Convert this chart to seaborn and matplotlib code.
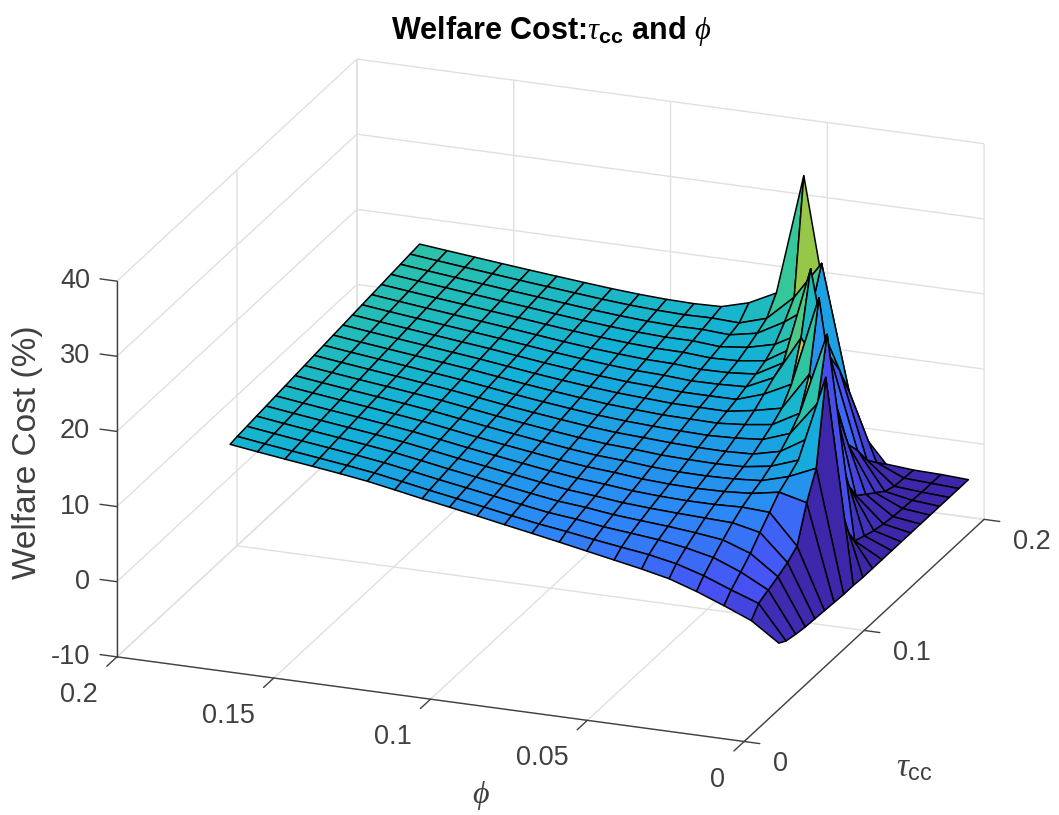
"""
Welfare cost surface over tau_cc and phi
"""
import numpy as np
import matplotlib.pyplot as plt
from matplotlib.colors import LinearSegmentedColormap, Normalize
from mpl_toolkits.mplot3d import proj3d
import seaborn as sns

# values, back row (tau = 0.2) first, left column (phi = 0.18) first
phi_values = [0.18, 0.17125, 0.1625, 0.15375, 0.145, 0.13625, 0.1275, 0.11875, 0.11, 0.10125, 0.0925,
              0.08375, 0.075, 0.06625, 0.0575, 0.04875, 0.04, 0.03125, 0.0225, 0.01375, 0.005]
tau_values = [0.2, 0.192, 0.184, 0.176, 0.168, 0.16, 0.152, 0.144, 0.136, 0.128, 0.12,
              0.112, 0.104, 0.096, 0.088, 0.08, 0.072, 0.064, 0.056, 0.048, 0.042]
welfare_cost = [
    [16.50, 16.12, 15.75, 15.38, 15.02, 14.68, 14.34, 14.02, 13.76, 13.58, 13.50, 13.60, 14.60, 16.40, 32.50, 12.10, -0.20, -4.40, -4.70, -4.80, -5.00],
    [16.34, 15.95, 15.57, 15.20, 14.83, 14.48, 14.13, 13.79, 13.51, 13.31, 13.20, 13.26, 13.10, 14.20, 17.50, 22.50, 6.00, -3.00, -4.60, -4.80, -5.00],
    [16.17, 15.78, 15.40, 15.02, 14.65, 14.29, 13.92, 13.56, 13.26, 13.03, 12.89, 12.92, 12.70, 13.40, 15.40, 18.00, 10.00, -1.50, -4.50, -4.80, -5.00],
    [16.01, 15.61, 15.22, 14.84, 14.46, 14.09, 13.70, 13.33, 13.01, 12.76, 12.59, 12.58, 12.30, 12.70, 13.60, 15.60, 13.00, 1.00, -4.00, -4.70, -5.00],
    [15.84, 15.44, 15.04, 14.66, 14.27, 13.90, 13.49, 13.10, 12.76, 12.49, 12.29, 12.24, 11.98, 12.10, 12.60, 14.80, 15.00, 3.00, -3.00, -4.60, -5.00],
    [15.68, 15.27, 14.87, 14.48, 14.09, 13.70, 13.28, 12.87, 12.51, 12.22, 11.98, 11.90, 11.64, 11.70, 12.00, 14.00, 27.00, 8.00, -2.00, -4.50, -5.00],
    [15.51, 15.09, 14.69, 14.29, 13.90, 13.50, 13.07, 12.64, 12.27, 11.94, 11.68, 11.55, 11.30, 11.34, 11.50, 13.20, 19.00, 14.00, -1.00, -4.30, -5.00],
    [15.35, 14.92, 14.51, 14.11, 13.71, 13.31, 12.86, 12.41, 12.02, 11.67, 11.38, 11.21, 11.00, 10.98, 11.00, 12.20, 14.00, 26.00, 2.00, -4.00, -5.00],
    [15.18, 14.75, 14.34, 13.93, 13.52, 13.11, 12.64, 12.18, 11.77, 11.40, 11.08, 10.87, 10.66, 10.62, 10.60, 11.20, 12.00, 17.00, 8.00, -3.50, -5.00],
    [15.02, 14.58, 14.16, 13.75, 13.34, 12.92, 12.43, 11.95, 11.52, 11.12, 10.77, 10.53, 10.32, 10.26, 10.20, 10.50, 11.00, 13.00, 24.00, -3.00, -5.00],
    [14.85, 14.41, 13.99, 13.57, 13.15, 12.72, 12.22, 11.72, 11.27, 10.85, 10.47, 10.19, 10.00, 9.86, 9.76, 9.90, 10.20, 11.50, 16.00, 0.00, -5.00],
    [14.69, 14.24, 13.81, 13.39, 12.96, 12.52, 12.01, 11.49, 11.02, 10.58, 10.17, 9.85, 9.66, 9.46, 9.32, 9.30, 9.44, 10.30, 12.50, 6.00, -5.00],
    [14.52, 14.07, 13.63, 13.21, 12.78, 12.33, 11.80, 11.26, 10.77, 10.30, 9.86, 9.51, 9.30, 9.02, 8.90, 8.84, 8.94, 9.50, 10.80, 22.30, -4.90],
    [14.36, 13.90, 13.46, 13.03, 12.59, 12.13, 11.58, 11.03, 10.52, 10.03, 9.56, 9.17, 8.94, 8.62, 8.44, 8.40, 8.50, 8.76, 9.80, 11.40, -4.90],
    [14.19, 13.73, 13.28, 12.85, 12.40, 11.94, 11.37, 10.80, 10.27, 9.76, 9.26, 8.83, 8.56, 8.20, 8.00, 7.92, 8.00, 8.24, 8.90, 8.00, -4.80],
    [14.03, 13.56, 13.10, 12.67, 12.22, 11.74, 11.16, 10.57, 10.03, 9.49, 8.96, 8.49, 8.18, 7.80, 7.58, 7.46, 7.46, 7.60, 7.40, 3.40, -4.70],
    [13.86, 13.38, 12.93, 12.48, 12.03, 11.54, 10.95, 10.34, 9.78, 9.21, 8.65, 8.14, 7.80, 7.40, 7.16, 6.98, 6.84, 6.70, 5.90, 2.40, -4.60],
    [13.70, 13.21, 12.75, 12.30, 11.84, 11.35, 10.74, 10.11, 9.53, 8.94, 8.35, 7.80, 7.46, 7.00, 6.70, 6.42, 6.06, 5.60, 4.30, 1.70, -4.50],
    [13.53, 13.04, 12.57, 12.12, 11.65, 11.15, 10.52, 9.88, 9.28, 8.67, 8.05, 7.46, 7.08, 6.56, 6.20, 5.82, 5.24, 4.44, 3.00, 1.10, -4.30],
    [13.37, 12.87, 12.40, 11.94, 11.47, 10.96, 10.31, 9.65, 9.03, 8.39, 7.74, 7.12, 6.62, 6.04, 5.52, 5.02, 4.30, 3.20, 1.80, 0.50, -4.00],
    [13.20, 12.70, 12.22, 11.76, 11.28, 10.76, 10.10, 9.42, 8.78, 8.12, 7.44, 6.78, 6.10, 5.40, 4.70, 4.00, 3.20, 2.00, 0.60, -0.90, -3.40],
]
phi_ticks = [0, 0.05, 0.1, 0.15, 0.2]
phi_tick_labels = ["0", "0.05", "0.1", "0.15", "0.2"]
tau_ticks = [0, 0.1, 0.2]
tau_tick_labels = ["0", "0.1", "0.2"]
cost_ticks = [-10, 0, 10, 20, 30, 40]
cost_tick_labels = ["-10", "0", "10", "20", "30", "40"]
parula_colors = ["#3e26a8", "#4752f4", "#2d87f7", "#12b1d6", "#37c897", "#abc739", "#fec338", "#f9fb15"]

TEXT_GREY = "#404040"
LINE_GREY = "#404040"

sns.set_theme(style="white")
plt.rcParams["font.family"] = ["Liberation Sans", "DejaVu Sans"]
plt.rcParams["axes.unicode_minus"] = False
plt.rcParams["mathtext.fontset"] = "custom"
plt.rcParams["mathtext.rm"] = "Liberation Sans"
plt.rcParams["mathtext.bf"] = "Liberation Sans:bold"
plt.rcParams["mathtext.it"] = "Liberation Serif:italic"

fig = plt.figure(figsize=(10.59, 8.15), dpi=100)
# big square box so nothing gets clipped, cube lands where it is in the picture
ax = fig.add_axes([36.2 / 1059, -99.6 / 815, 1001.6 / 1059, 1001.6 / 815], projection="3d")
ax.patch.set_alpha(0)
ax.set_proj_type("ortho")
ax.view_init(elev=20.7, azim=-69.1)
ax.set_box_aspect((1.008, 1.01, 0.603), zoom=1.0)

# flip so phi and tau ascend, then every face takes the colour of its first corner
phi_grid, tau_grid = np.meshgrid(phi_values[::-1], tau_values[::-1])
cost_grid = np.array(welfare_cost)[::-1, ::-1]
parula = LinearSegmentedColormap.from_list("parula", parula_colors)
face_colors = parula(Normalize(-5, 35)(cost_grid))

ax.plot_surface(
    phi_grid, tau_grid, cost_grid,
    facecolors=face_colors, shade=False, rstride=1, cstride=1,
    edgecolor="black", linewidth=1.1, antialiased=True,
)

ax.set_xlim(0.2, 0)
ax.set_ylim(0, 0.2)
ax.set_zlim(-10, 40)
ax.set_xticks(phi_ticks, [""] * len(phi_ticks))
ax.set_yticks(tau_ticks, [""] * len(tau_ticks))
ax.set_zticks(cost_ticks, [""] * len(cost_ticks))

for axis in (ax.xaxis, ax.yaxis, ax.zaxis):
    axis.set_pane_color((1, 1, 1, 0))
    axis.pane.set_edgecolor((1, 1, 1, 0))
    axis.line.set_color(LINE_GREY)
    axis.line.set_linewidth(1.0)
    axis._axinfo["grid"].update(color="#e0e0e0", linewidth=1.0)
    axis._axinfo["tick"].update(inward_factor=0.0, outward_factor=0.0)

ax.zaxis.set_ticks_position("lower")
ax.grid(True)


def tick_label(x, y, z, text, dx, dy, ha):
    # place a label a few pixels off its tick, the 3D axis cannot do this
    x2, y2, _ = proj3d.proj_transform(x, y, z, ax.get_proj())
    ax.annotate(text, xy=(x2, y2), xytext=(dx, dy), textcoords="offset pixels", ha=ha, va="center",
                fontsize=19.5, color=TEXT_GREY, annotation_clip=False)


# ticks stick out of the box along the floor, like the reference
for value, label in zip(phi_ticks, phi_tick_labels):
    ax.plot([value, value], [0, -0.0085], [-10, -10], color=LINE_GREY, lw=1.0)
    tick_label(value, 0, -10, label, -19, -38, "right")
for value, label in zip(tau_ticks, tau_tick_labels):
    ax.plot([0, -0.005], [value, value], [-10, -10], color=LINE_GREY, lw=1.0)
    tick_label(0, value, -10, label, 29, -22.5, "left")
for value, label in zip(cost_ticks, cost_tick_labels):
    ax.plot([0.2, 0.2054], [0, 0], [value, value], color=LINE_GREY, lw=1.0)
    tick_label(0.2, 0, value, label, -27, 0, "right")

ax.set_xlim(0.2, 0)
ax.set_ylim(0, 0.2)
ax.set_zlim(-10, 40)

fig.text(481 / 1059, 1 - 795 / 815, r"$\phi$", fontsize=23, color=TEXT_GREY, ha="center", va="center")
fig.text(914 / 1059, 1 - 768 / 815, r"$\tau_{\mathrm{cc}}$", fontsize=24, color=TEXT_GREY, ha="center", va="center")
fig.text(28 / 1059, 1 - 452 / 815, "Welfare Cost (%)", fontsize=24, color=TEXT_GREY, rotation=90, ha="center", va="center")

fig.text(551 / 1059, 1 - 31 / 815, r"Welfare Cost:$\tau_{\mathbf{cc}}$ and $\phi$",
         fontsize=22, fontweight="bold", color="black", ha="center", va="center")

fig.savefig("out.png", dpi=100)
